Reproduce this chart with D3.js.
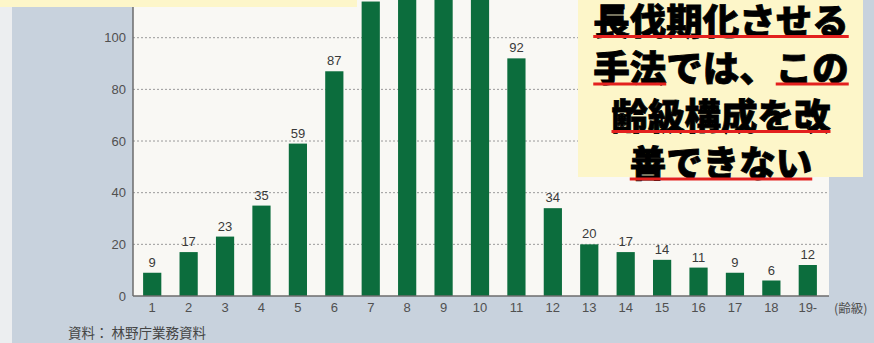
<!DOCTYPE html>
<html>
<head>
<meta charset="utf-8">
<script src="https://cdn.jsdelivr.net/npm/d3@7"></script>
<style>
  html, body { margin: 0; padding: 0; background: #c8d2dd; }
  svg { display: block; }
</style>
</head>
<body>
<svg id="chart" width="874" height="343"></svg>
<script>
// 齢級 (age class) and area values (万ha)
var categories = ["1","2","3","4","5","6","7","8","9","10","11","12","13","14","15","16","17","18","19-"];
var areaValues = [9, 17, 23, 35, 59, 87, 114, 140, 172, 160, 92, 34, 20, 17, 14, 11, 9, 6, 12];
var yTicks = [0, 20, 40, 60, 80, 100];
var calloutLines = ["長伐期化させる", "手法では、この", "齢級構成を改", "善できない"];
// underline ranges per line: [startChar, endChar)
var calloutUnderlines = [[[0, 7]], [[0, 2], [5, 7]], [[0, 6]], [[0, 5]]];
var sourceNote = "資料： 林野庁業務資料";
var unitLabel = "(齢級)";

var svg = d3.select("#chart");
var W = 874, H = 343;

// background pieces
svg.append("rect").attr("x", 0).attr("y", 0).attr("width", W).attr("height", H).attr("fill", "#c8d2dd");
svg.append("rect").attr("x", 0).attr("y", 0).attr("width", 12).attr("height", H).attr("fill", "#eceef0");

var plotLeft = 133, plotRight = 829, plotBottom = 296;

// white plot panel
svg.append("rect")
    .attr("x", plotLeft).attr("y", 0)
    .attr("width", plotRight - plotLeft).attr("height", plotBottom)
    .attr("fill", "#f9f8f4");

var x = d3.scaleBand()
    .domain(categories)
    .range([134, 826])
    .paddingInner(0.5)
    .paddingOuter(0.25);

var y = d3.scaleLinear()
    .domain([0, 100])
    .range([plotBottom, 37.7]);

// dotted gridlines
svg.append("g")
    .selectAll("line")
    .data(yTicks.filter(function (d) { return d > 0; }))
    .join("line")
    .attr("x1", plotLeft).attr("x2", plotRight)
    .attr("y1", function (d) { return y(d); })
    .attr("y2", function (d) { return y(d); })
    .attr("stroke", "#9a9a9a")
    .attr("stroke-width", 1)
    .attr("stroke-dasharray", "2,2");

// y axis
var yAxis = svg.append("g")
    .attr("transform", "translate(" + plotLeft + ",0)")
    .call(d3.axisLeft(y).tickValues(yTicks).tickSize(0).tickPadding(7));
yAxis.select(".domain").remove();
yAxis.selectAll("text")
    .attr("font-family", "Liberation Sans, Arial, sans-serif")
    .attr("font-size", 13)
    .attr("fill", "#505050");

// bars
svg.append("g")
    .selectAll("rect")
    .data(areaValues)
    .join("rect")
    .attr("x", function (d, i) { return x(categories[i]); })
    .attr("width", x.bandwidth())
    .attr("y", function (d) { return y(d); })
    .attr("height", function (d) { return plotBottom - y(d); })
    .attr("fill", "#0c6d3d");

// value labels (the tall bars run past the top edge, their labels are cropped away)
var labelled = areaValues
    .map(function (d, i) { return { v: d, c: categories[i] }; })
    .filter(function (d) { return y(d.v) - 6 > 14; });
svg.append("g")
    .selectAll("text")
    .data(labelled)
    .join("text")
    .attr("x", function (d) { return x(d.c) + x.bandwidth() / 2; })
    .attr("y", function (d) { return y(d.v) - 6; })
    .attr("text-anchor", "middle")
    .attr("font-family", "Liberation Sans, Arial, sans-serif")
    .attr("font-size", 13)
    .attr("fill", "#3a3a3a")
    .text(function (d) { return d.v; });

// axis lines
svg.append("line")
    .attr("x1", plotLeft).attr("x2", plotLeft)
    .attr("y1", 0).attr("y2", plotBottom)
    .attr("stroke", "#6c6c6c").attr("stroke-width", 1.5);

var xAxis = svg.append("g")
    .attr("transform", "translate(0," + plotBottom + ")")
    .call(d3.axisBottom(x).tickSize(0).tickPadding(7));
xAxis.select(".domain")
    .attr("d", "M" + plotLeft + ",0H" + plotRight)
    .attr("stroke", "#6c6c6c").attr("stroke-width", 1.5);
xAxis.selectAll("text")
    .attr("font-family", "Liberation Sans, Arial, sans-serif")
    .attr("font-size", 13)
    .attr("fill", "#505050");

svg.append("text")
    .attr("x", 834).attr("y", 313)
    .attr("font-family", "Noto Sans CJK JP, sans-serif")
    .attr("font-size", 12.5)
    .attr("fill", "#505050")
    .text(unitLabel);

svg.append("text")
    .attr("x", 68).attr("y", 338)
    .attr("font-family", "Noto Sans CJK JP, sans-serif")
    .attr("font-size", 13.5)
    .attr("fill", "#454545")
    .text(sourceNote);

// yellow band top-left
svg.append("rect")
    .attr("x", 0).attr("y", 0).attr("width", 357).attr("height", 7)
    .attr("fill", "#fdf6c9");

// callout box
var box = svg.append("g");
box.append("rect")
    .attr("x", 578).attr("y", 0).attr("width", 285).attr("height", 177)
    .attr("fill", "#fdf6c9");

var cx = 721;
calloutLines.forEach(function (line, i) {
    var cy = 19 + i * 47.5;
    var t = box.append("text")
        .attr("x", cx).attr("y", cy)
        .attr("text-anchor", "middle")
        .attr("dominant-baseline", "central")
        .attr("font-family", "Noto Sans CJK JP, sans-serif")
        .attr("font-weight", 900)
        .attr("font-size", 36.5)
        .attr("fill", "#000")
        .attr("stroke", "#000")
        .attr("stroke-width", 0.8)
        .text(line);
    var node = t.node();
    calloutUnderlines[i].forEach(function (r) {
        var a = node.getExtentOfChar(r[0]);
        var b = node.getExtentOfChar(r[1] - 1);
        box.append("rect")
            .attr("x", a.x)
            .attr("y", cy + 16)
            .attr("width", b.x + b.width - a.x)
            .attr("height", 3)
            .attr("fill", "#e3201e");
    });
});
</script>
</body>
</html>
